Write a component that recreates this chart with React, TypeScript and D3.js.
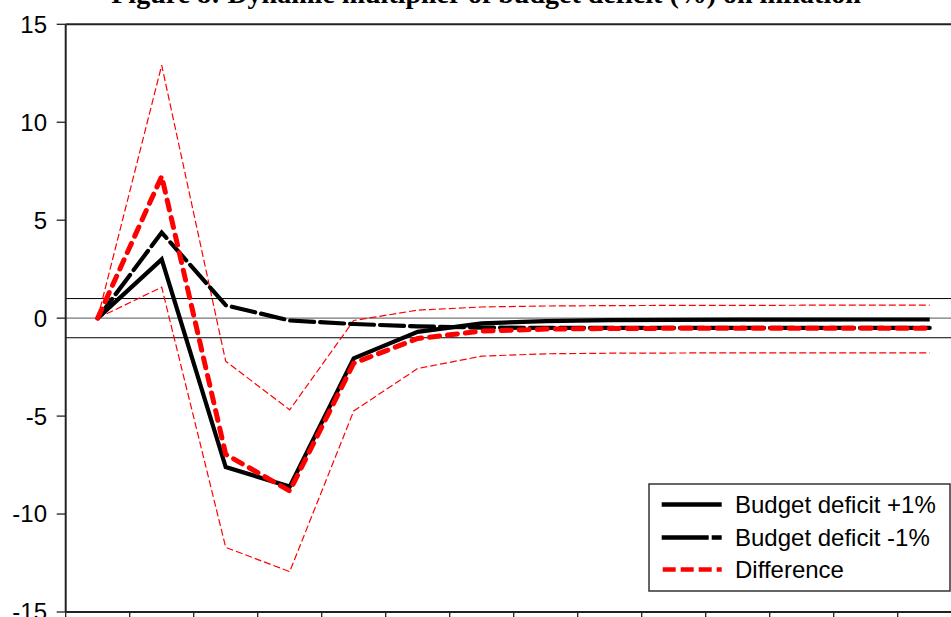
import React from "react";
import * as d3 from "d3";

const periods = [1, 2, 3, 4, 5, 6, 7, 8, 9, 10, 11, 12, 13, 14];
const deficitPlus = [0, 3.0, -7.6, -8.6, -2.05, -0.7, -0.27, -0.15, -0.1, -0.09, -0.08, -0.08, -0.07, -0.07];
const deficitMinus = [0, 4.37, 0.66, -0.12, -0.3, -0.42, -0.48, -0.5, -0.5, -0.5, -0.5, -0.5, -0.5, -0.5];
const difference = [0, 7.24, -6.95, -8.82, -2.3, -1.04, -0.66, -0.56, -0.53, -0.52, -0.52, -0.52, -0.52, -0.52];
const diffUpper = [0, 12.91, -2.2, -4.68, -0.12, 0.41, 0.57, 0.62, 0.64, 0.65, 0.65, 0.66, 0.66, 0.66];
const diffLower = [0, 1.58, -11.7, -12.94, -4.74, -2.57, -1.94, -1.82, -1.79, -1.78, -1.77, -1.77, -1.77, -1.77];
const yTicks = [15, 10, 5, 0, -5, -10, -15];
const bandLines = [1, -1];
const legendItems = ["Budget deficit +1%", "Budget deficit -1%", "Difference"];
const titleText = "Figure 8: Dynamic multiplier of budget deficit (%) on inflation";

export default function App() {
  const W = 951;
  const H = 617;
  const left = 65.7;
  const x = d3.scaleLinear().domain([0, periods.length]).range([left, left + 64 * periods.length]);
  const y = d3.scaleLinear().domain([-15, 15]).range([612, 24.3]);
  const px = (i: number) => x(i + 0.5);
  const line = d3
    .line<number>()
    .x((_, i) => px(i))
    .y((d) => y(d));
  const right = x(periods.length);
  const font = "'Liberation Sans', Arial, sans-serif";

  const lx0 = 661.7;
  const lx1 = 721.7;
  const rows = [504.5, 537.5, 569.5];

  return (
    <svg
      width={W}
      height={H}
      style={{ position: "absolute", left: 0, top: 0, background: "#fff" }}
    >
      <text
        x={486}
        y={2.5}
        textAnchor="middle"
        fontFamily="'Liberation Serif', 'Times New Roman', serif"
        fontWeight="bold"
        fontSize={28}
        fill="#000"
      >
        {titleText}
      </text>

      {/* reference lines */}
      {bandLines.map((v) => (
        <line key={v} x1={left} x2={right} y1={y(v)} y2={y(v)} stroke="#000" strokeWidth={1} />
      ))}
      <line x1={left} x2={right} y1={y(0)} y2={y(0)} stroke="#777" strokeWidth={1.2} />

      {/* frame */}
      <line x1={left} x2={right} y1={y(15)} y2={y(15)} stroke="#222" strokeWidth={2} />
      <line x1={left} x2={right} y1={y(-15)} y2={y(-15)} stroke="#222" strokeWidth={2} />
      <line x1={left} x2={left} y1={y(15)} y2={y(-15)} stroke="#222" strokeWidth={2} />

      {/* y ticks */}
      {yTicks.map((t) => (
        <g key={t}>
          <line x1={left - 9} x2={left} y1={y(t)} y2={y(t)} stroke="#222" strokeWidth={1.3} />
          <text
            x={47}
            y={y(t)}
            dy="0.35em"
            textAnchor="end"
            fontFamily={font}
            fontSize={24}
            fill="#000"
          >
            {t}
          </text>
        </g>
      ))}

      {/* x ticks */}
      {d3.range(periods.length + 1).map((i) => (
        <line key={i} x1={x(i)} x2={x(i)} y1={y(-15)} y2={y(-15) + 8} stroke="#222" strokeWidth={1.3} />
      ))}

      {/* confidence bands */}
      <path d={line(diffUpper) || ""} fill="none" stroke="#ff0000" strokeWidth={1.2} strokeDasharray="7,3" />
      <path d={line(diffLower) || ""} fill="none" stroke="#ff0000" strokeWidth={1.2} strokeDasharray="7,3" />

      {/* main lines */}
      <path d={line(deficitPlus) || ""} fill="none" stroke="#000" strokeWidth={4.2} strokeLinejoin="miter" />
      <path
        d={line(deficitMinus) || ""}
        fill="none"
        stroke="#000"
        strokeWidth={4.2}
        strokeDasharray="24,6"
        strokeLinecap="round"
      />
      <path
        d={line(difference) || ""}
        fill="none"
        stroke="#ff0000"
        strokeWidth={5}
        strokeDasharray="10,8"
        strokeLinecap="round"
      />

      {/* legend */}
      <rect x={649} y={484} width={301} height={107} fill="#fff" stroke="#333" strokeWidth={1.5} />
      <line x1={lx0} x2={lx1} y1={rows[0]} y2={rows[0]} stroke="#000" strokeWidth={4.5} />
      <line x1={lx0} x2={lx1} y1={rows[1]} y2={rows[1]} stroke="#000" strokeWidth={4.5} strokeDasharray="47,3,10,3" />
      <line x1={lx0 + 1} x2={lx1} y1={rows[2]} y2={rows[2]} stroke="#ff0000" strokeWidth={4.5} strokeDasharray="13,5" />
      {legendItems.map((s, i) => (
        <text key={s} x={735} y={rows[i]} dy="0.35em" fontFamily={font} fontSize={24} fill="#000">
          {s}
        </text>
      ))}
    </svg>
  );
}
